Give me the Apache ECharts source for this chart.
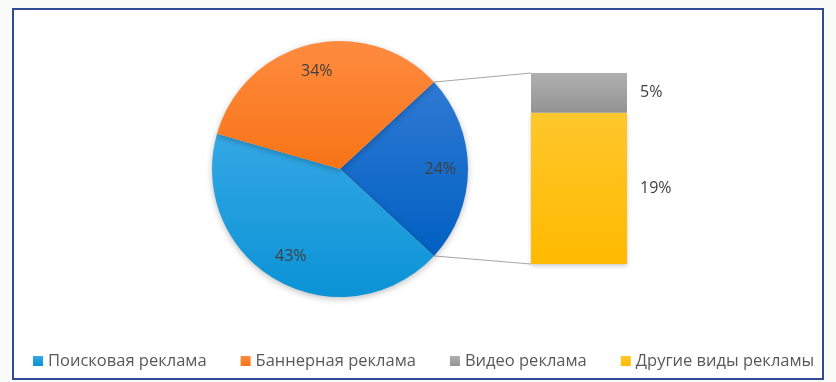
<!DOCTYPE html>
<html>
<head>
<meta charset="utf-8">
<script src="https://cdn.jsdelivr.net/npm/echarts@6/dist/echarts.min.js"></script>
<style>
html,body{margin:0;padding:0;background:#fafcfa;}
#c{width:836px;height:382px;}
</style>
</head>
<body>
<div id="c"></div>
<script>
// ---- data ----
const legendNames = ['Поисковая реклама', 'Баннерная реклама', 'Видео реклама', 'Другие виды рекламы'];
const pieNames = ['Прочие виды рекламы', 'Поисковая реклама', 'Баннерная реклама'];
const pieValues = [24, 43, 34];
const barCategories = ['Прочие виды рекламы'];
const videoValues = [5];
const otherValues = [19];

// ---- layout constants ----
const CX = 340, CY = 169, R = 128;
const GRID = {left: 531, top: 73, width: 96, height: 191};

function grad(c1, c2) {
  return new echarts.graphic.LinearGradient(0, 0, 0, 1, [{offset: 0, color: c1}, {offset: 1, color: c2}]);
}
const pieColors = [grad('#2f79d3', '#0060c2'), grad('#35a7e5', '#0a93d5'), grad('#ff8b40', '#f77416')];

const total = pieValues.reduce((a, b) => a + b, 0);
const startAngle = pieValues[0] / total * 360 / 2;

const pieData = pieNames.map((n, i) => ({name: n, value: pieValues[i], itemStyle: {color: pieColors[i]}}));
const labelData = pieNames.map((n, i) => ({name: n, value: pieValues[i]}));

const frame = {type: 'rect', silent: true, z: -10, shape: {x: 13, y: 9, width: 810, height: 370}, style: {fill: '#ffffff', stroke: '#2f4b93', lineWidth: 2}};

const chart = echarts.init(document.getElementById('c'));
chart.setOption({
  animation: false,
  backgroundColor: 'transparent',
  legend: {
    data: legendNames,
    left: 33, top: 351, padding: 0,
    itemWidth: 10, itemHeight: 10, itemGap: 34,
    icon: 'rect',
    textStyle: {fontFamily: 'Open Sans', fontSize: 16.5, color: '#595959', lineHeight: 20}
  },
  grid: GRID,
  xAxis: {type: 'category', data: barCategories, show: false},
  yAxis: {type: 'value', min: 0, max: videoValues[0] + otherValues[0], show: false},
  graphic: [frame],
  series: [
    {
      type: 'pie', name: 'main', center: [CX, CY], radius: [0, R],
      startAngle: startAngle, clockwise: true,
      label: {show: false}, labelLine: {show: false},
      itemStyle: {shadowBlur: 6, shadowColor: 'rgba(0,0,0,0.25)', shadowOffsetY: 2},
      emphasis: {disabled: true},
      data: pieData
    },
    {
      type: 'pie', name: 'labels', center: [CX, CY], radius: [R * 0.52, R],
      startAngle: startAngle, clockwise: true, silent: true, legendHoverLink: false,
      itemStyle: {color: 'transparent'},
      label: {show: true, position: 'inside', formatter: '{c}%', fontFamily: 'Open Sans', fontSize: 16, color: '#404040'},
      labelLine: {show: false},
      emphasis: {disabled: true},
      data: labelData
    },
    {
      type: 'bar', name: 'Другие виды рекламы', stack: 'o', barWidth: '100%',
      itemStyle: {color: grad('#ffc72c', '#ffba00'), shadowBlur: 4, shadowColor: 'rgba(0,0,0,0.2)', shadowOffsetY: 2},
      label: {show: true, position: 'right', distance: 13, formatter: '{c}%', fontFamily: 'Open Sans', fontSize: 16, color: '#404040'},
      data: otherValues
    },
    {
      type: 'bar', name: 'Видео реклама', stack: 'o', barWidth: '100%',
      itemStyle: {color: grad('#b0b0b0', '#939393')},
      label: {show: true, position: 'right', distance: 13, formatter: '{c}%', fontFamily: 'Open Sans', fontSize: 16, color: '#404040'},
      data: videoValues
    }
  ]
});

// connector lines computed from pie geometry and bar axis
const a = startAngle * Math.PI / 180;
const p1 = [CX + R * Math.cos(a), CY - R * Math.sin(a)];
const p2 = [CX + R * Math.cos(a), CY + R * Math.sin(a)];
const topY = chart.convertToPixel({yAxisIndex: 0}, videoValues[0] + otherValues[0]);
const botY = chart.convertToPixel({yAxisIndex: 0}, 0);
const barX = chart.convertToPixel({xAxisIndex: 0}, barCategories[0]) - GRID.width / 2;
chart.setOption({
  graphic: [
    frame,
    {type: 'line', silent: true, shape: {x1: p1[0], y1: p1[1], x2: barX, y2: topY}, style: {stroke: '#a6a6a6', lineWidth: 1}},
    {type: 'line', silent: true, shape: {x1: p2[0], y1: p2[1], x2: barX, y2: botY}, style: {stroke: '#a6a6a6', lineWidth: 1}}
  ]
});
</script>
</body>
</html>
